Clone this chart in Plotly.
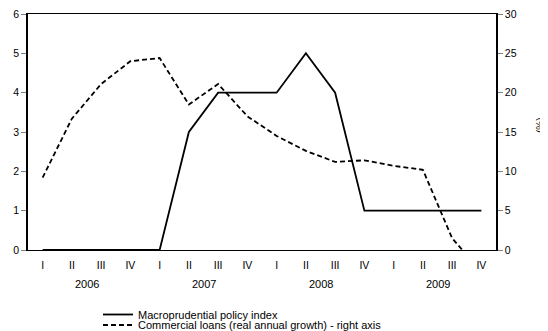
import plotly.graph_objects as go

quarters = ["I", "II", "III", "IV"] * 4
years = ["2006", "2007", "2008", "2009"]
macro_index = [0, 0, 0, 0, 0, 3, 4, 4, 4, 5, 4, 1, 1, 1, 1, 1]
commercial_loans = [9.2, 16.7, 21.1, 24.0, 24.4, 18.5, 21.1, 17.0, 14.5, 12.6, 11.2, 11.4, 10.7, 10.2, 1.5, -2.8]

n = len(quarters)
xpos = list(range(n))
font = "Liberation Sans, Arial, sans-serif"

W, H = 540, 323
L, R, T, B = 20, 52, 6, 81
ph = H - T - B

fig = go.Figure()
fig.add_trace(go.Scatter(x=xpos, y=macro_index, mode="lines", name="Macroprudential policy index",
                         line=dict(color="black", width=1.8), xaxis="x", yaxis="y", legend="legend"))
fig.add_trace(go.Scatter(x=xpos, y=commercial_loans, mode="lines",
                         name="Commercial loans (real annual growth) - right axis",
                         line=dict(color="black", width=1.8, dash="5px,3px"), xaxis="x", yaxis="y2",
                         legend="legend2"))

boundaries = [i - 0.5 for i in range(n + 1)]

annotations = []
for k, yr in enumerate(years):
    annotations.append(dict(x=4 * k + 1.5, y=-34 / ph, xref="x", yref="paper", text=yr, showarrow=False,
                            font=dict(family=font, size=11, color="black"), yanchor="middle"))
annotations.append(dict(x=(532 - L) / (W - L - R), y=1 - (125 - 8 - T) / ph, xref="paper", yref="paper",
                        text="(%)", showarrow=False, textangle=-90,
                        font=dict(family=font, size=10, color="black"),
                        xanchor="center", yanchor="middle"))

legend_common = dict(xanchor="left", yanchor="middle", orientation="v", itemwidth=30,
                     xref="container", yref="container",
                     font=dict(family=font, size=11, color="black"), bgcolor="rgba(0,0,0,0)")

fig.update_layout(
    width=W, height=H,
    margin=dict(l=L, r=R, t=T, b=B, autoexpand=False),
    paper_bgcolor="white", plot_bgcolor="white",
    showlegend=True,
    legend=dict(x=90 / W, y=(H - 306.5) / H, **legend_common),
    legend2=dict(x=90 / W, y=(H - 317) / H, **legend_common),
    xaxis=dict(range=[-0.5, n - 0.5], tickmode="array", tickvals=xpos, ticktext=quarters,
               ticks="", showgrid=False, zeroline=False, showline=True, linecolor="black",
               linewidth=1, mirror=True, automargin=False, ticklabelstandoff=5,
               ticklabeloverflow="allow", tickfont=dict(family=font, size=10.5, color="black")),
    xaxis2=dict(range=[-0.5, n - 0.5], overlaying="x", side="bottom", tickmode="array",
                tickvals=boundaries, ticks="outside", ticklen=5, tickcolor="black",
                showticklabels=False, showgrid=False, zeroline=False, anchor="y", automargin=False),
    yaxis=dict(range=[0, 6], dtick=1, ticks="outside", ticklen=5, tickcolor="gray",
               showgrid=False, zeroline=False, showline=True, linecolor="black", linewidth=1.5,
               automargin=False, ticklabeloverflow="allow",
               tickfont=dict(family=font, size=10.5, color="black")),
    yaxis2=dict(range=[0, 30], dtick=5, overlaying="y", side="right", ticks="outside", ticklen=5,
                tickcolor="gray", showgrid=False, zeroline=False, showline=True, linecolor="black",
                linewidth=1.5, automargin=False, ticklabeloverflow="allow",
                tickfont=dict(family=font, size=10.5, color="black")),
    annotations=annotations,
)

fig.write_html("out.html")
